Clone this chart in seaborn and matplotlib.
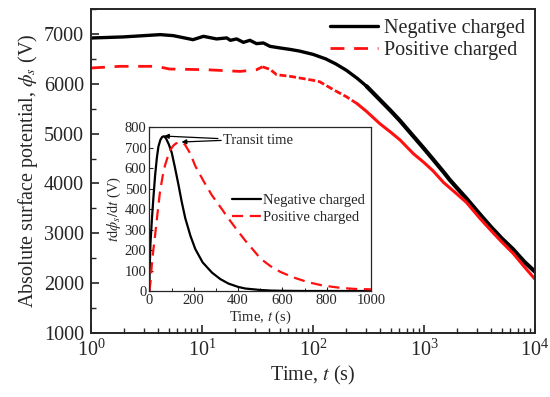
import numpy as np
import pandas as pd
import matplotlib
matplotlib.use("Agg")
import matplotlib.pyplot as plt
import seaborn as sns
from matplotlib.ticker import MultipleLocator, LogLocator, NullFormatter

# ---- main panel data (surface potential decay) ----
neg_t = [1, 1.05, 1.95, 4.2, 5.5, 8.3, 10.3, 13.5, 16.7, 18, 20.5, 23.6, 27, 31,
         35.7, 41, 50, 62, 76, 100, 130, 160, 200, 250, 304, 400, 500, 607, 800,
         1000, 1210, 1500, 1710, 2000, 2410, 3190, 4000, 5000, 6340, 8000, 10000]
neg_v = [6915, 6920, 6940, 6986, 6966, 6885, 6952, 6900, 6920, 6872, 6900, 6831,
         6872, 6805, 6819, 6751, 6720, 6690, 6655, 6590, 6500, 6400, 6270, 6110,
         5950, 5680, 5460, 5260, 4950, 4700, 4480, 4230, 4070, 3900, 3700, 3380,
         3130, 2900, 2680, 2430, 2230]
pos_t = [1, 1.82, 3.9, 5.1, 11, 22, 31, 35, 41, 47, 62, 76, 100, 115, 153, 200,
         250, 304, 400, 500, 607, 800, 1000, 1210, 1500, 2000, 2410, 3190, 4000,
         5000, 6340, 8000, 10000]
pos_v = [6317, 6350, 6350, 6296, 6282, 6248, 6282, 6340, 6290, 6182, 6150, 6116,
         6070, 6040, 5880, 5740, 5600, 5444, 5200, 5030, 4875, 4600, 4420, 4250,
         4020, 3780, 3620, 3300, 3060, 2830, 2600, 2330, 2080]

# ---- inset data (t*dphi/dt) ----
in_neg_t = [0, 2, 5, 11, 18, 26, 34, 41, 50, 58, 66, 75, 88, 101, 115, 131, 146,
            162, 185, 207, 240, 282, 320, 357, 400, 433, 500, 550, 600, 700, 1000]
in_neg_v = [0, 120, 230, 340, 450, 564, 650, 705, 738, 752, 755, 745, 715, 675,
            605, 520, 435, 355, 270, 205, 140, 90, 58, 36, 20, 12, 5, 2, 1, 0, 0]
in_pos_t = [0, 5, 11, 18, 26, 37, 48, 60, 71, 83, 94, 107, 120, 139, 160, 185,
            207, 245, 282, 320, 357, 395, 433, 470, 501, 545, 591, 650, 712, 780,
            863, 930, 1000]
in_pos_v = [0, 40, 125, 200, 272, 380, 484, 560, 614, 655, 687, 708, 720, 727,
            715, 670, 610, 535, 467, 410, 353, 298, 245, 198, 158, 122, 93, 66, 44,
            27, 15, 10, 8]

labels = ["Negative charged", "Positive charged"]

sns.set_style("ticks")
plt.rcParams["font.family"] = ["Liberation Serif", "DejaVu Serif"]
plt.rcParams["mathtext.fontset"] = "stix"
plt.rcParams["axes.linewidth"] = 1.4

RED = "#ff1010"
fig = plt.figure(figsize=(5.5, 3.97), dpi=100)
ax = fig.add_axes([0.1655, 0.1612, 0.8072, 0.8161])

# negative curve: thin early, thicker where the measured data are dense/noisy
j = neg_t.index(304)
sns.lineplot(x=neg_t[:j + 1], y=neg_v[:j + 1], ax=ax, color="black", lw=2.4,
             label=labels[0])
sns.lineplot(x=neg_t[j:], y=neg_v[j:], ax=ax, color="black", lw=3.0)
# positive curve: long dashes early, dense (noisy) data later looks nearly solid
i1 = pos_t.index(35)
i2 = pos_t.index(250)
sns.lineplot(x=pos_t[:i1 + 1], y=pos_v[:i1 + 1], ax=ax, color=RED, lw=2.0,
             linestyle=(0, (5, 3.5)), label=labels[1])
sns.lineplot(x=pos_t[i1:i2 + 1], y=pos_v[i1:i2 + 1], ax=ax, color=RED, lw=2.0,
             linestyle=(0, (2.5, 1.0)))
sns.lineplot(x=pos_t[i2:], y=pos_v[i2:], ax=ax, color=RED, lw=2.2, linestyle="-")
ax.set_xscale("log")
ax.set_xlim(1, 1e4)
ax.set_ylim(1000, 7500)
ax.yaxis.set_major_locator(MultipleLocator(1000))
ax.yaxis.set_minor_locator(MultipleLocator(500))
ax.xaxis.set_major_locator(LogLocator(base=10, numticks=10))
ax.xaxis.set_minor_locator(LogLocator(base=10, subs=np.arange(2, 10), numticks=20))
ax.xaxis.set_minor_formatter(NullFormatter())
ax.tick_params(which="major", direction="in", length=6, width=1.2, labelsize=14.5, pad=5)
ax.tick_params(which="minor", direction="in", length=3.5, width=1.0)
ax.set_xlabel(r"Time, $t$ (s)", fontsize=14.5, labelpad=2)
ax.set_ylabel(r"Absolute surface potential, $\phi_s$ (V)", fontsize=14.5, labelpad=3)
ax.legend(loc="upper right", frameon=False, fontsize=14.5, handlelength=2.4,
          borderaxespad=0.1, labelspacing=0.15, handletextpad=0.3)

# ---- inset ----
ins = fig.add_axes([0.2715, 0.267, 0.4035, 0.413])
sns.lineplot(x=in_neg_t, y=in_neg_v, ax=ins, color="black", lw=1.6, label=labels[0])
sns.lineplot(x=in_pos_t, y=in_pos_v, ax=ins, color=RED, lw=1.6,
             linestyle=(0, (5, 3)), label=labels[1])
ins.set_xlim(0, 1000)
ins.set_ylim(0, 800)
ins.xaxis.set_major_locator(MultipleLocator(200))
ins.xaxis.set_minor_locator(MultipleLocator(100))
ins.yaxis.set_major_locator(MultipleLocator(100))
for s in ins.spines.values():
    s.set_linewidth(0.9)
ins.tick_params(which="major", direction="in", length=3, width=0.8, labelsize=10.5, pad=2)
ins.tick_params(which="minor", direction="in", length=2, width=0.7)
ins.set_xlabel(r"Time, $t$ (s)", fontsize=10.5, labelpad=1)
ins.set_ylabel(r"$t\mathrm{d}\phi_s/\mathrm{d}t$ (V)", fontsize=10.5, labelpad=1)
ins.legend(loc="center right", bbox_to_anchor=(1.0, 0.50), frameon=False, fontsize=10.5,
           handlelength=2.0, labelspacing=0.25, handletextpad=0.1, borderaxespad=0.05)

ins.annotate("Transit time", xy=(66, 756), xytext=(330, 735), fontsize=10.5,
             va="center", ha="left",
             arrowprops=dict(arrowstyle="-|>", color="black", lw=0.9,
                             mutation_scale=7, shrinkA=1, shrinkB=0))
ins.annotate("", xy=(145, 727), xytext=(330, 735),
             arrowprops=dict(arrowstyle="-|>", color="black", lw=0.9,
                             mutation_scale=7, shrinkA=1, shrinkB=0))

fig.savefig("out.png", dpi=100)
